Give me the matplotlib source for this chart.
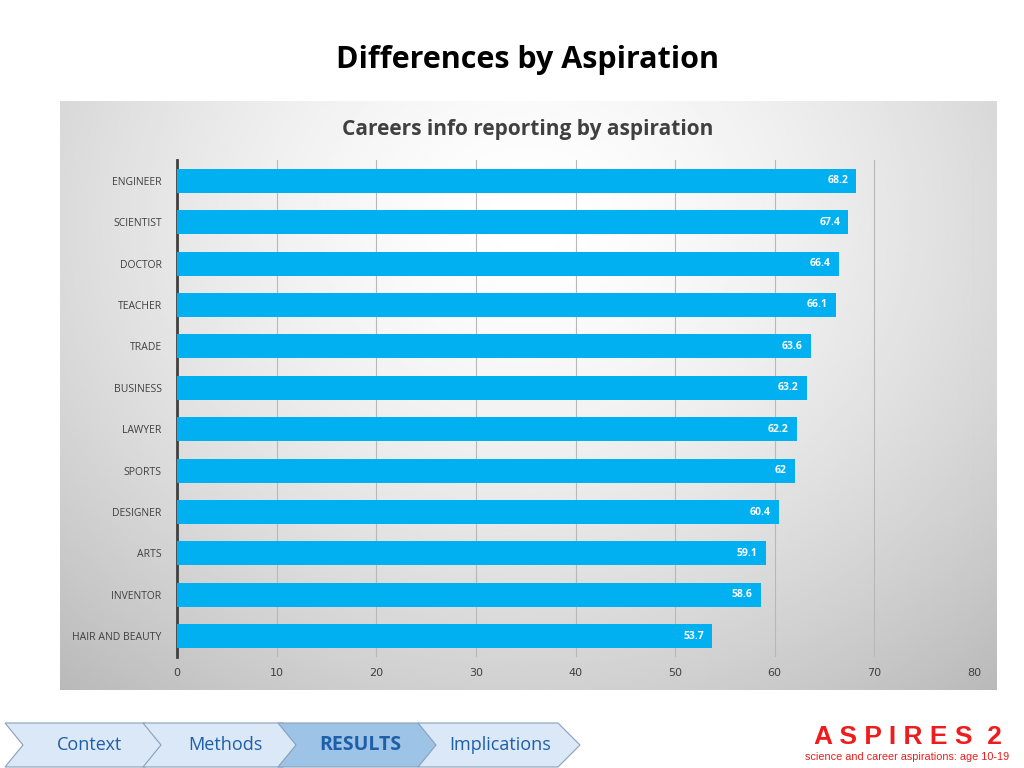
import matplotlib
matplotlib.use("Agg")
import matplotlib.pyplot as plt
from matplotlib.patches import Polygon
import numpy as np

categories = ["ENGINEER","SCIENTIST","DOCTOR","TEACHER","TRADE","BUSINESS","LAWYER","SPORTS","DESIGNER","ARTS","INVENTOR","HAIR AND BEAUTY"]
values = [68.2,67.4,66.4,66.1,63.6,63.2,62.2,62,60.4,59.1,58.6,53.7]
labels = ["68.2","67.4","66.4","66.1","63.6","63.2","62.2","62","60.4","59.1","58.6","53.7"]
nav = ["Context","Methods","RESULTS","Implications"]

W, H = 1024, 768
fig = plt.figure(figsize=(W/100, H/100), dpi=100)
fig.patch.set_facecolor("white")
font = "Open Sans"

fig.text(528/W, 1-60/H, "Differences by Aspiration", ha="center", va="center", fontsize=22, fontweight="bold", family=font)

bg = fig.add_axes([60/W, 1-690/H, 937/W, 589/H])
yy, xx = np.mgrid[1:-1:200j, -1:1:300j]
r = np.sqrt((xx*0.75)**2 + ((yy-0.6)*0.55)**2)
bg.imshow(1.0 - 0.22*np.clip(r, 0, 1.2)**1.5, cmap="gray", vmin=0, vmax=1, aspect="auto", extent=[0,1,0,1])
bg.set_axis_off()
fig.text(528/W, 1-129/H, "Careers info reporting by aspiration", ha="center", va="center", fontsize=15, fontweight="bold", color="#404040", family=font)

ax = fig.add_axes([177/W, 1-657/H, (974-177)/W, (657-160)/H])
ax.patch.set_alpha(0)
y = np.arange(len(categories))
ax.barh(y, values, height=0.58, color="#00b0f0", zorder=3)
for yi, v, l in zip(y, values, labels):
    ax.text(v-0.8, yi, l, ha="right", va="center", color="white", fontsize=7.5, fontweight="bold", family=font, zorder=4)
ax.set_xlim(0, 80)
ax.set_ylim(len(categories)-0.5, -0.5)
ax.set_yticks(y)
ax.set_yticklabels(categories, fontsize=7.5, color="#404040", family=font)
ax.set_xticks(range(0, 81, 10))
ax.tick_params(axis="x", labelsize=8, colors="#404040", length=0, pad=8)
ax.tick_params(axis="y", length=0, pad=11)
ax.xaxis.grid(True, color="#b8b8b8", lw=0.8, zorder=0)
for s in ["top","right","bottom"]:
    ax.spines[s].set_visible(False)
ax.spines["left"].set_color("#404040")
ax.spines["left"].set_linewidth(2)

nav_ax = fig.add_axes([0, 0, 1, 1]); nav_ax.set_xlim(0, W); nav_ax.set_ylim(H, 0); nav_ax.set_axis_off()
xs = [5, 143, 278, 418]
w = 140
for i, (x0, t) in enumerate(zip(xs, nav)):
    pts = [(x0, 723), (x0+w, 723), (x0+w+22, 745), (x0+w, 767), (x0, 767), (x0+18, 745)]
    fc = "#9dc3e6" if i == 2 else "#dae8f7"
    nav_ax.add_patch(Polygon(pts, closed=True, fc=fc, ec="#8aa0b8", lw=0.8))
    nav_ax.text(x0+w/2+12 if i else x0+w/2+15, 745, t, ha="center", va="center", fontsize=13 if i != 2 else 14,
                color="#1f5fa8", fontweight="bold" if i == 2 else "normal", family=font)
nav_ax.text(908, 737, "A S P I R E S  2", ha="center", va="center", fontsize=19, fontweight="bold", color="#ee1c1c", family="Liberation Sans")
nav_ax.text(907, 757, "science and career aspirations: age 10-19", ha="center", va="center", fontsize=7.8, color="#ee1c1c", family="Liberation Sans")

fig.savefig("out.png", dpi=100)
